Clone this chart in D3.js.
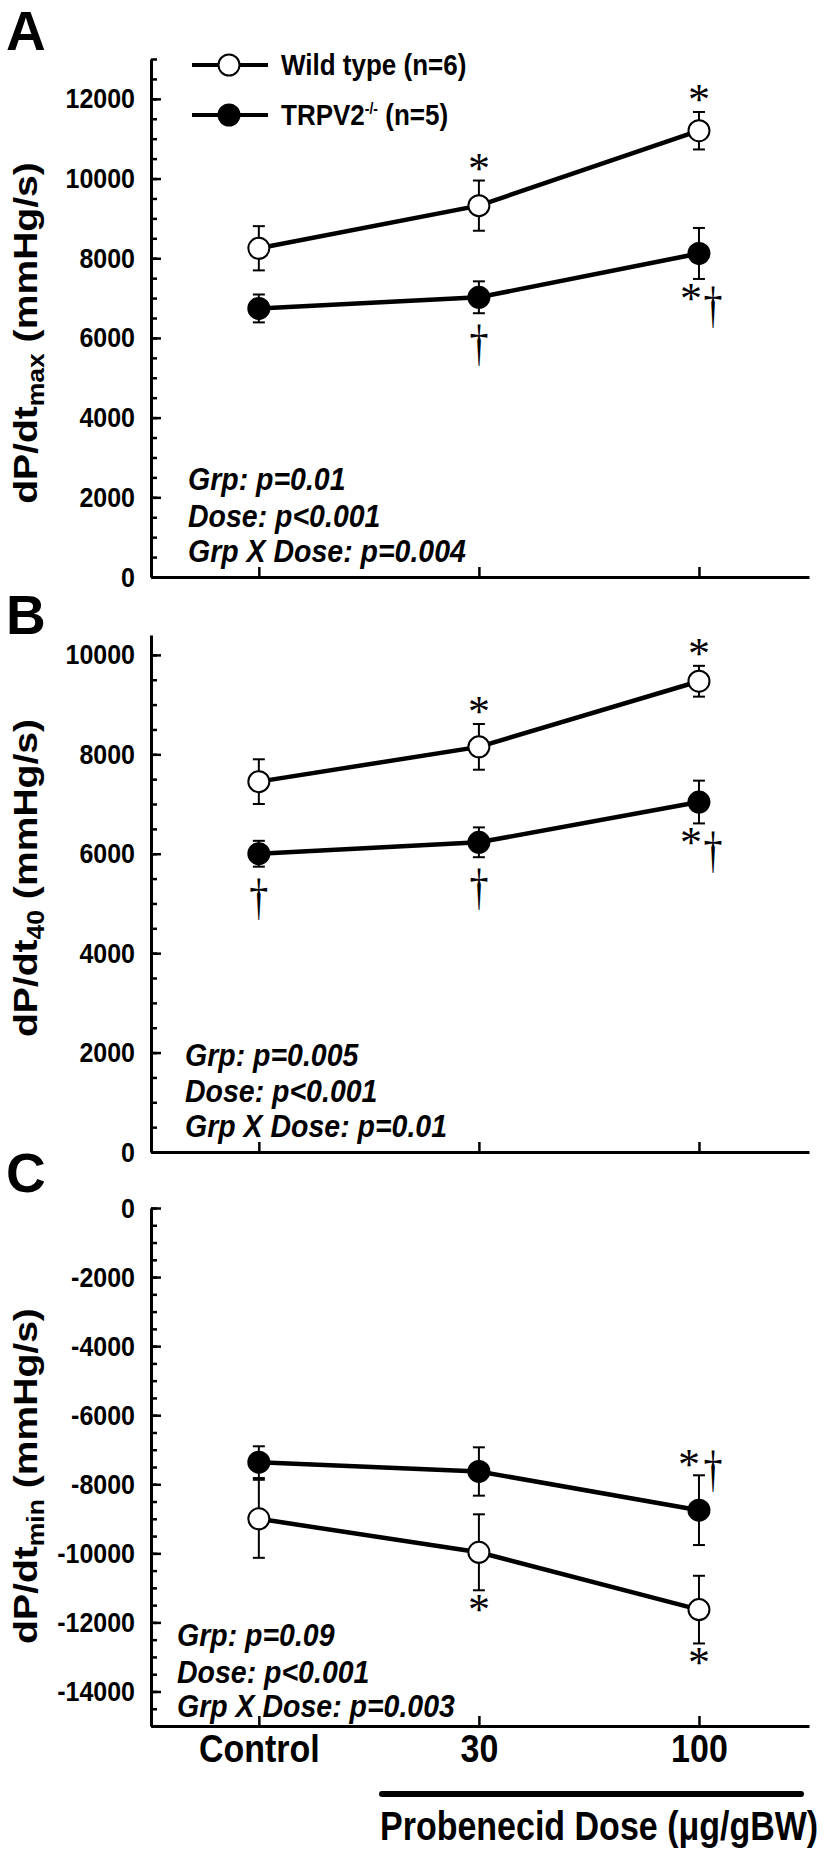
<!DOCTYPE html>
<html><head><meta charset="utf-8">
<script src="https://cdn.jsdelivr.net/npm/d3@7"></script>
<style>
body{margin:0;background:#fff}
svg{display:block}
text{font-family:"Liberation Sans",Arial,Helvetica,sans-serif;font-weight:bold;fill:#000}
</style>
</head><body><script>
// ---------- data ----------
const doses = ["Control", "30", "100"];
const legendNames = ["Wild type (n=6)", "TRPV2"];

// Panel A: dP/dt max
const wtMax   = [8250, 9320, 11200];
const wtMaxSE = [555, 630, 470];
const koMax   = [6740, 7020, 8120];
const koMaxSE = [350, 400, 640];

// Panel B: dP/dt 40
const wt40   = [7450, 8150, 9470];
const wt40SE = [450, 460, 310];
const ko40   = [6000, 6230, 7040];
const ko40SE = [260, 300, 430];

// Panel C: dP/dt min
const wtMin   = [-9000, -9970, -11630];
const wtMinSE = [1130, 1100, 980];
const koMin   = [-7360, -7630, -8750];
const koMinSE = [460, 700, 1010];

const ticksA = [0, 2000, 4000, 6000, 8000, 10000, 12000];
const ticksB = [0, 2000, 4000, 6000, 8000, 10000];
const ticksC = [0, -2000, -4000, -6000, -8000, -10000, -12000, -14000];

const statsA = ["Grp: p=0.01", "Dose: p<0.001", "Grp X Dose: p=0.004"];
const statsB = ["Grp: p=0.005", "Dose: p<0.001", "Grp X Dose: p=0.01"];
const statsC = ["Grp: p=0.09", "Dose: p<0.001", "Grp X Dose: p=0.003"];

const annotA = [["wt",1,"above","*"],["wt",2,"above","*"],["ko",1,"below","†"],["ko",2,"below","*†"]];
const annotB = [["wt",1,"above","*"],["wt",2,"above","*"],["ko",0,"below","†"],["ko",1,"below","†"],["ko",2,"below","*†"]];
const annotC = [["wt",1,"below","*"],["wt",2,"below","*"],["ko",2,"above","*†"]];

// ---------- layout ----------
const W = 824, H = 1851;
const svg = d3.select("body").append("svg").attr("width", W).attr("height", H);

const x = d3.scaleLinear().domain([-0.49, 2.5]).range([151, 809]);

const panels = [
  {letter:"A", letterY:50, domain:[0,13000], range:[577,59], ticks:ticksA, minorStep:500,
   sub:"max", titleY:333, wt:wtMax, wtSE:wtMaxSE, ko:koMax, koSE:koMaxSE,
   stats:statsA, statsX:188, statsY:[490,527,562], annot:annotA, legend:true, xlabels:false},
  {letter:"B", letterY:634, domain:[0,10400], range:[1152,635], ticks:ticksB, minorStep:500,
   sub:"40", titleY:878, wt:wt40, wtSE:wt40SE, ko:ko40, koSE:ko40SE,
   stats:statsB, statsX:185, statsY:[1066,1102,1137], annot:annotB, legend:false, xlabels:false},
  {letter:"C", letterY:1192, domain:[-15000,0], range:[1726,1208], ticks:ticksC, minorStep:500,
   sub:"min", titleY:1476, wt:wtMin, wtSE:wtMinSE, ko:koMin, koSE:koMinSE,
   stats:statsC, statsX:177, statsY:[1646,1683,1717], annot:annotC, legend:false, xlabels:true}
];

function styleAxis(g){
  g.selectAll("path.domain").attr("stroke","#000").attr("stroke-width",3);
  g.selectAll(".tick line").attr("stroke","#000").attr("stroke-width",2.5);
}

panels.forEach(p => {
  const y = d3.scaleLinear().domain(p.domain).range(p.range);

  // panel letter
  svg.append("text").attr("x", 6).attr("y", p.letterY)
    .style("font-size","55px").text(p.letter);

  // minor ticks
  const minors = d3.range(p.domain[0], p.domain[1] + 1, p.minorStep);
  const gm = svg.append("g").attr("transform","translate(151,0)")
    .call(d3.axisLeft(y).tickValues(minors).tickSizeInner(-6).tickSizeOuter(0).tickFormat(""));
  gm.select("path.domain").remove();
  gm.selectAll(".tick line").attr("stroke","#000").attr("stroke-width",2.5);

  // major y axis
  const gy = svg.append("g").attr("transform","translate(151,0)")
    .call(d3.axisLeft(y).tickValues(p.ticks).tickSizeInner(-10).tickSizeOuter(0).tickPadding(16)
      .tickFormat(d => String(d)));
  styleAxis(gy);
  gy.selectAll(".tick text").attr("dy",0).attr("y",0)
    .attr("transform","translate(0,9) scale(1,1.08)")
    .style("font-size","25px").style("font-family","Liberation Sans, Arial, sans-serif")
    .style("font-weight","bold").attr("fill","#000");

  // x axis
  const gx = svg.append("g").attr("transform",`translate(0,${p.range[0]})`)
    .call(d3.axisBottom(x).tickValues([0,1,2]).tickSizeInner(-10).tickSizeOuter(0)
      .tickFormat(p.xlabels ? (i => doses[i]) : ""));
  styleAxis(gx);
  gx.selectAll(".tick text").attr("y",0).attr("dy",0)
    .attr("transform","translate(0,36) scale(1,1.15)")
    .style("font-size","34px").style("font-family","Liberation Sans, Arial, sans-serif")
    .style("font-weight","bold").attr("fill","#000");

  // y title
  const t = svg.append("text")
    .attr("transform",`translate(37,${p.titleY}) rotate(-90) scale(1.15,1)`)
    .attr("text-anchor","middle").style("font-size","34px");
  t.append("tspan").text("dP/dt");
  t.append("tspan").attr("dy",7).style("font-size","23px").text(p.sub);
  t.append("tspan").attr("dy",-7).text(" (mmHg/s)");

  // lines
  const line = d3.line().x((d,i) => x(i)).y(d => y(d));
  [p.wt, p.ko].forEach(s => {
    svg.append("path").datum(s).attr("d", line)
      .attr("fill","none").attr("stroke","#000").attr("stroke-width",4.5);
  });

  // error bars
  [[p.wt,p.wtSE],[p.ko,p.koSE]].forEach(([m,se]) => {
    const g = svg.append("g").attr("stroke","#000").attr("stroke-width",2);
    m.forEach((v,i) => {
      const y1 = y(v + se[i]), y2 = y(v - se[i]), cx = x(i);
      g.append("line").attr("x1",cx).attr("x2",cx).attr("y1",y1).attr("y2",y2);
      g.append("line").attr("x1",cx-6).attr("x2",cx+6).attr("y1",y1).attr("y2",y1);
      g.append("line").attr("x1",cx-6).attr("x2",cx+6).attr("y1",y2).attr("y2",y2);
    });
  });

  // markers
  [[p.ko,"#000"],[p.wt,"#fff"]].forEach(([m,fill]) => {
    svg.append("g").selectAll("circle").data(m).join("circle")
      .attr("cx",(d,i) => x(i)).attr("cy", d => y(d)).attr("r",10.5)
      .attr("fill",fill).attr("stroke","#000").attr("stroke-width",2);
  });

  // significance marks
  const ser = {wt:[p.wt,p.wtSE], ko:[p.ko,p.koSE]};
  const ast = (cx, cy) => svg.append("text").attr("x",cx).attr("y",cy + 21)
    .attr("text-anchor","middle").style("font-family","Liberation Serif, Times New Roman, serif")
    .style("font-weight","normal").style("font-size","44px").text("*");
  const dag = (cx, top) => svg.append("text")
    .attr("transform",`translate(${cx},${top}) scale(1,1.35)`).attr("y",26)
    .attr("text-anchor","middle").style("font-family","Liberation Serif, Times New Roman, serif")
    .style("font-weight","normal").style("font-size","38px").text("†");
  p.annot.forEach(([s,i,pos,mark]) => {
    const [m,se] = ser[s];
    const a = y(m[i] + se[i]), b = y(m[i] - se[i]);
    const top = Math.min(a,b), bot = Math.max(a,b), cx = x(i);
    if (mark === "*") {
      if (pos === "above") ast(cx, top - 19); else ast(cx, bot + 13);
    } else if (mark === "†") {
      dag(cx, bot + 12);
    } else {
      if (pos === "below") { ast(cx - 8, bot + 13); dag(cx + 14, bot + 8); }
      else { ast(cx - 10, top - 17); dag(cx + 14, top - 24); }
    }
  });

  // stats text
  p.stats.forEach((s,k) => {
    svg.append("text").attr("transform",`translate(${p.statsX},${p.statsY[k]}) scale(1,1.12)`)
      .style("font-size","28.5px").style("font-style","italic").text(s);
  });

  // legend
  if (p.legend) {
    [[legendNames[0],"#fff",65],[legendNames[1],"#000",115]].forEach(([name,fill,ly],k) => {
      svg.append("line").attr("x1",192).attr("x2",268).attr("y1",ly).attr("y2",ly)
        .attr("stroke","#000").attr("stroke-width",4);
      svg.append("circle").attr("cx",229).attr("cy",ly).attr("r",10.5)
        .attr("fill",fill).attr("stroke","#000").attr("stroke-width",2);
      const tx = svg.append("text").attr("transform",`translate(281,${ly + 10}) scale(1,1.12)`)
        .style("font-size","26px");
      if (k === 0) tx.text(name);
      else {
        tx.append("tspan").text(name);
        tx.append("tspan").attr("dy",-10).style("font-size","14px").text("-/-");
        tx.append("tspan").attr("dy",10).text(" (n=5)");
      }
    });
  }
});

// dose bracket and label
svg.append("line").attr("x1",382).attr("x2",801).attr("y1",1794).attr("y2",1794)
  .attr("stroke","#000").attr("stroke-width",6).attr("stroke-linecap","round");
svg.append("text").attr("transform","translate(380,1840) scale(1,1.2)")
  .style("font-size","34px").text("Probenecid Dose (μg/gBW)");
</script></body></html>
